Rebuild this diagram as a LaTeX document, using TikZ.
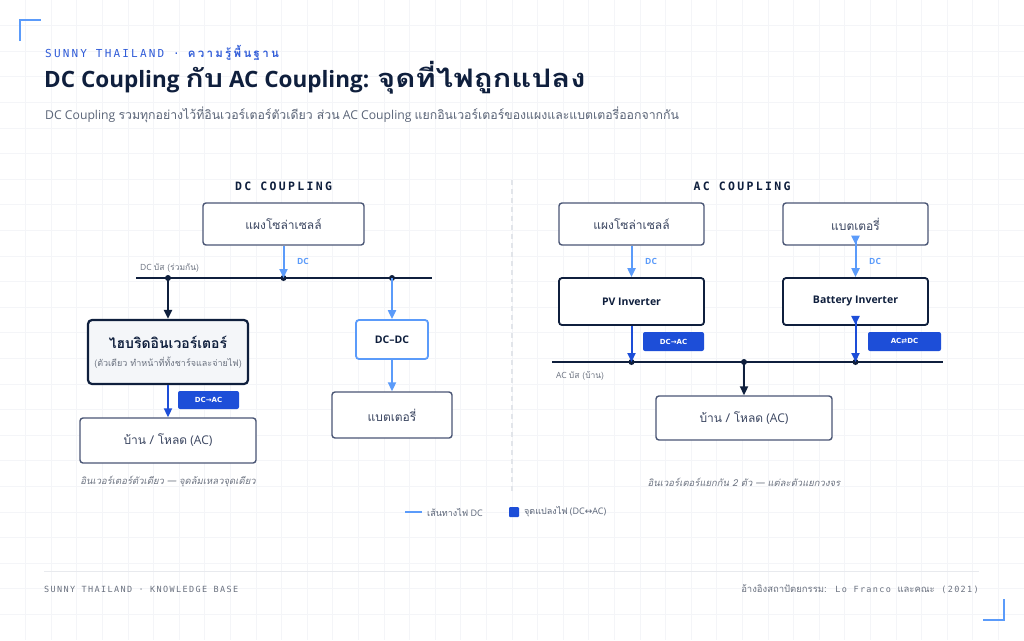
\documentclass[tikz,border=0pt]{standalone}
\usepackage{fontspec}
\usetikzlibrary{arrows.meta}
\setmainfont{Open Sans}
\newfontfamily\thaifont[Script=Thai]{Loma}
\newfontfamily\thaiwide[Script=Thai,FakeStretch=1.22]{Loma}
\newfontfamily\thaispaced[Script=Thai,LetterSpace=20]{Loma}
\newfontfamily\monofont[LetterSpace=20]{DejaVu Sans Mono}
\newfontfamily\monofooter[LetterSpace=16]{DejaVu Sans Mono}
\newfontfamily\djv{DejaVu Sans}
\newcommand\T[1]{{\thaifont #1}}
\definecolor{navy}{HTML}{0F1F3D}
\definecolor{boxline}{HTML}{4A5675}
\definecolor{dcblue}{HTML}{5B9BFA}
\definecolor{royal}{HTML}{1D4ED8}
\definecolor{txtgray}{HTML}{6B7280}
\definecolor{subgray}{HTML}{5B6578}
\definecolor{gridc}{HTML}{F4F5F8}
\definecolor{boxtxt}{HTML}{3A4560}
\definecolor{hybfill}{HTML}{F4F6F9}
\definecolor{headblue}{HTML}{2F5BD8}
\definecolor{dashc}{HTML}{E2E5EA}
\definecolor{footline}{HTML}{E8EAEE}
\tikzset{
  plainbox/.style={draw=boxline, line width=1.4pt, rounded corners=3pt, fill=white, inner sep=0pt, font=\fontsize{12}{15}\selectfont, text=boxtxt},
  strongbox/.style={draw=navy, line width=1.8pt, rounded corners=3pt, fill=white, inner sep=0pt, font=\bfseries\fontsize{10.5}{13}\selectfont, text=navy},
  badge/.style={fill=royal, rounded corners=2pt, inner sep=0pt, text=white, font=\djv\bfseries\fontsize{7}{8}\selectfont},
  dcarrow/.style={draw=dcblue, line width=2pt, -{Triangle[length=9pt,width=8pt]}},
  navyarrow/.style={draw=navy, line width=2pt, -{Triangle[length=9pt,width=8pt]}},
  royalarrow/.style={draw=royal, line width=2pt, -{Triangle[length=9pt,width=8pt]}},
  bus/.style={draw=navy, line width=2.6pt},
  busdot/.style={circle, fill=navy, inner sep=0pt, minimum size=6pt},
  lbl/.style={inner sep=0pt},
  dclabel/.style={inner sep=0pt, anchor=west, text=dcblue, font=\bfseries\fontsize{8.5}{11}\selectfont},
  sectitle/.style={inner sep=0pt, text=navy, font=\monofont\bfseries\fontsize{11.5}{13}\selectfont},
}
\begin{document}
\begin{tikzpicture}[x=1pt,y=-1pt]
\useasboundingbox (0,0) rectangle (1024,640);
\fill[white] (0,0) rectangle (1024,640);
% grid
\foreach \i in {1,...,39} \draw[gridc, line width=0.8pt] (\i*25.6,0) -- (\i*25.6,640);
\foreach \j in {1,...,24} \draw[gridc, line width=0.8pt] (0,\j*25.6) -- (1024,\j*25.6);
% corner brackets
\draw[dcblue, line width=1.6pt] (20,41) -- (20,20) -- (41,20);
\draw[dcblue, line width=1.6pt] (983,620) -- (1004,620) -- (1004,599);
% header
\node[lbl, anchor=base west, text=headblue] (hdr) at (45,57) {{\monofont\fontsize{11}{13}\selectfont SUNNY THAILAND ·}\hspace{8pt}{\thaispaced\bfseries\fontsize{11.5}{13}\selectfont ความรู้พื้นฐาน}};
\node[lbl, anchor=base west, text=navy, font=\bfseries\fontsize{22.5}{27}\selectfont] (title) at (44,87) {DC Coupling {\thaiwide\fontsize{25}{27}\selectfont กับ} AC Coupling: {\thaiwide\fontsize{25.5}{27}\selectfont จุดที่ไฟถูกแปลง}};
\node[lbl, anchor=base west, text=subgray, font=\fontsize{12.2}{14}\selectfont] (sub) at (45,119) {DC Coupling {\thaifont\fontsize{12.3}{14}\selectfont รวมทุกอย่างไว้ที่อินเวอร์เตอร์ตัวเดียว ส่วน} AC Coupling {\thaifont\fontsize{12.3}{14}\selectfont แยกอินเวอร์เตอร์ของแผงและแบตเตอรี่ออกจากกัน}};
% divider
\draw[dashc, line width=1.2pt, dash pattern=on 5pt off 4pt] (512,180) -- (512,492);
% ===== DC coupling =====
\node[sectitle] (dctitle) at (283.5,186) {DC COUPLING};
\node[plainbox, minimum width=161pt, minimum height=42pt] (dsolar) at (283.5,224) {\T{แผงโซล่าเซลล์}};
\draw[bus] (136,278) coordinate (dbusL) -- (432,278) coordinate (dbusR);
\node[busdot] (dA) at (168,278) {};
\node[busdot] (dB) at (283.5,278) {};
\node[busdot] (dC) at (392,278) {};
\node[lbl, anchor=west, text=txtgray, font=\fontsize{8.5}{11}\selectfont] (dbuslbl) at (140,268) {DC \T{บัส (ร่วมกัน)}};
\draw[dcarrow] (dsolar.south) -- (dB.center);
\node[dclabel] (dclbl1) at (297,261) {DC};
\node[draw=navy, line width=2.2pt, rounded corners=4pt, fill=hybfill, minimum width=160pt, minimum height=64pt, inner sep=0pt] (hyb) at (168,352) {};
\node[lbl, text=navy, font=\thaifont\bfseries\fontsize{14}{16}\selectfont] (hybt) at (168,342) {ไฮบริดอินเวอร์เตอร์};
\node[lbl, text=txtgray, font=\thaifont\fontsize{9}{11}\selectfont] (hybs) at (168,363) {(ตัวเดียว ทำหน้าที่ทั้งชาร์จและจ่ายไฟ)};
\draw[navyarrow] (dA.center) -- (hyb.north);
\node[plainbox, minimum width=176pt, minimum height=45pt] (dload) at (168,440.5) {\T{บ้าน / โหลด} (AC)};
\draw[royalarrow] (hyb.south) -- (dload.north);
\node[badge, minimum width=61pt, minimum height=18pt] (dbadge) at (208.5,400) {DC→AC};
\node[draw=dcblue, line width=1.8pt, rounded corners=3pt, fill=white, inner sep=0pt, minimum width=72pt, minimum height=39pt, text=navy, font=\bfseries\fontsize{10.5}{13}\selectfont] (dcdc) at (392,339.5) {DC–DC};
\draw[dcarrow] (dC.center) -- (dcdc.north);
\node[plainbox, minimum width=120pt, minimum height=46pt] (dbatt) at (392,415) {\T{แบตเตอรี่}};
\draw[dcarrow] (dcdc.south) -- (dbatt.north);
\node[lbl, text=txtgray, font=\thaifont\itshape\fontsize{9.5}{11}\selectfont] (dcap) at (168,482) {อินเวอร์เตอร์ตัวเดียว — จุดล้มเหลวจุดเดียว};
% ===== AC coupling =====
\node[sectitle] (actitle) at (742,186) {AC COUPLING};
\node[plainbox, minimum width=145pt, minimum height=42pt] (asolar) at (631.5,224) {\T{แผงโซล่าเซลล์}};
\node[plainbox, minimum width=145pt, minimum height=42pt] (abatt) at (855.5,224) {\T{แบตเตอรี่}};
\node[strongbox, minimum width=145pt, minimum height=47pt] (pvinv) at (631.5,301.5) {PV Inverter};
\node[strongbox, minimum width=145pt, minimum height=47pt] (binv) at (855.5,301.5) {Battery Inverter};
\draw[dcarrow] (asolar.south) -- (pvinv.north);
\draw[dcblue, line width=2pt, {Triangle[reversed,length=9pt,width=8pt]}-{Triangle[length=9pt,width=8pt]}] ([yshift=10pt]abatt.south) -- (binv.north);
\node[dclabel] (dclbl2) at (645,261) {DC};
\node[dclabel] (dclbl3) at (869,261) {DC};
\draw[bus] (552,362) coordinate (abusL) -- (943,362) coordinate (abusR);
\node[busdot] (aA) at (631.5,362) {};
\node[busdot] (aB) at (744,362) {};
\node[busdot] (aC) at (855.5,362) {};
\draw[royalarrow] (pvinv.south) -- (aA.center);
\draw[royal, line width=2pt, {Triangle[reversed,length=9pt,width=8pt]}-{Triangle[length=9pt,width=8pt]}] ([yshift=10pt]binv.south) -- (aC.center);
\node[badge, minimum width=61pt, minimum height=19pt] (pvbadge) at (673.5,341.5) {DC→AC};
\node[badge, minimum width=73pt, minimum height=19pt] (bbadge) at (904.5,341.5) {AC⇄DC};
\node[lbl, anchor=west, text=txtgray, font=\fontsize{8.5}{11}\selectfont] (abuslbl) at (556,376) {AC \T{บัส (บ้าน)}};
\node[plainbox, minimum width=176pt, minimum height=44pt] (aload) at (744,418) {\T{บ้าน / โหลด} (AC)};
\draw[navyarrow] (aB.center) -- (aload.north);
\node[lbl, text=txtgray, font=\thaifont\itshape\fontsize{9.5}{11}\selectfont] (acap) at (744,482) {อินเวอร์เตอร์แยกกัน 2 ตัว — แต่ละตัวแยกวงจร};
% legend
\draw[dcblue, line width=2.4pt] (405,512) coordinate (lg1a) -- (422,512) coordinate (lg1b);
\node[lbl, anchor=west, text=subgray, font=\fontsize{9}{11}\selectfont] (lg1t) at (427,512) {\T{เส้นทางไฟ} DC};
\node[fill=royal, rounded corners=1pt, minimum size=10pt, inner sep=0pt] (lgsq) at (514,512) {};
\node[lbl, anchor=west, text=subgray, font=\fontsize{9}{11}\selectfont] (lg2t) at (524,512) {\T{จุดแปลงไฟ} (DC{\djv ↔}AC)};
% footer
\draw[footline, line width=1pt] (44,571) -- (979,571);
\node[lbl, anchor=base west, text=txtgray, font=\monofooter\fontsize{8.5}{10}\selectfont] (fl) at (44,592) {SUNNY THAILAND · KNOWLEDGE BASE};
\node[lbl, anchor=base east, text=txtgray, font=\monofooter\fontsize{8.5}{10}\selectfont] (fr) at (979,592) {{\thaifont\fontsize{9.5}{10}\selectfont อ้างอิงสถาปัตยกรรม:} Lo Franco {\thaifont\fontsize{9.5}{10}\selectfont และคณะ} (2021)};
\end{tikzpicture}
\end{document}
